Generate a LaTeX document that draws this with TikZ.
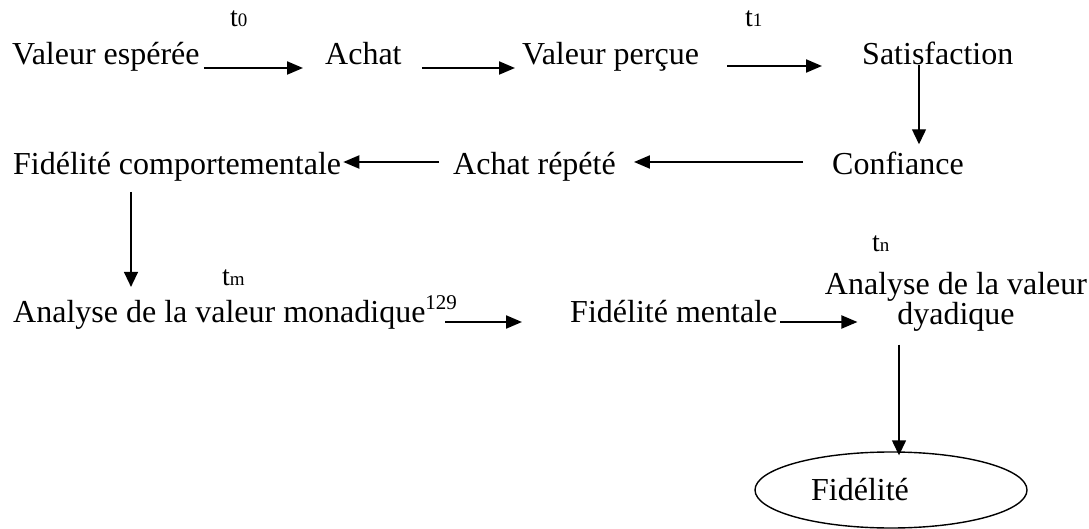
\documentclass[tikz,border=0pt]{standalone}
\usepackage{fontspec}
\setmainfont{Liberation Serif}
\usetikzlibrary{arrows.meta,calc,shapes.geometric}
\newcommand{\tsub}[2]{{\fontsize{28}{28}\selectfont #1}{\fontsize{19}{19}\selectfont #2}}
\begin{document}
\begin{tikzpicture}[x=1pt,y=-1pt,
  lbl/.style={inner sep=0pt,anchor=base west,font=\fontsize{32}{30}\selectfont},
  tlbl/.style={inner sep=0pt,anchor=base west},
  harr/.style={line width=2pt,-{Triangle[length=16pt,width=13pt]}},
  varr/.style={line width=1.4pt,-{Triangle[length=15pt,width=14pt]}}]
\useasboundingbox (0,0) rectangle (1089,529);
% row 1
\node[lbl] (ve) at (12,65) {Valeur espérée};
\node[lbl] (ach) at (325,65) {Achat};
\node[lbl] (vp) at (522,65) {Valeur perçue};
\node[lbl] (sat) at (862,65) {Satisfaction};
\node[tlbl] (t0) at (230,27) {\tsub{t}{0}};
\node[tlbl] (t1) at (745,27) {\tsub{t}{1}};
% row 2
\node[lbl] (fc) at (13,175) {Fidélité comportementale};
\node[lbl] (ar) at (453,175) {Achat répété};
\node[lbl] (conf) at (832,175) {Confiance};
% row 3
\node[lbl] (amon) at (13,322) {Analyse de la valeur monadique\raisebox{13pt}{\fontsize{21}{21}\selectfont 129}};
\node[tlbl] (tm) at (222,285) {\tsub{t}{m}};
\node[lbl] (fm) at (570,322) {Fidélité mentale};
\node[lbl,anchor=north,align=center] (adv) at (956,272) {Analyse de la valeur\\dyadique};
\node[tlbl] (tn) at (872,252) {\tsub{t}{n}};
\node[draw,line width=1.4pt,ellipse,minimum width=272pt,minimum height=76pt,inner sep=0pt,font=\fontsize{32}{30}\selectfont] (fid) at (891,490) {Fidélité\kern62pt};
% connectors
\draw[harr] ($(ve.base east)+(4,3)$) -- ($(ach.base west)+(-22,3)$);
\draw[harr] ($(ach.base east)+(20,3)$) -- ($(vp.base west)+(-7,3)$);
\draw[harr] ($(vp.base east)+(28,1)$) -- ($(sat.base west)+(-40,1)$);
\draw[varr] (sat.base west -| 919,65) -- ($(conf.north west)+(87,-8)$);
\draw[harr] ($(conf.base west)+(-29,-13)$) -- ($(ar.base east)+(18,-13)$);
\draw[harr] ($(ar.base west)+(-14,-13)$) -- ($(fc.base east)+(2,-13)$);
\draw[varr] ($(fc.base west)+(118,17)$) -- ($(amon.north west)+(118,-8)$);
\draw[harr] ($(amon.base east)+(-12,0)$) -- ($(fm.base west)+(-48,0)$);
\draw[harr] ($(fm.base east)+(3,0)$) -- ($(fm.base east)+(80,0)$);
\draw[varr] ($(adv.south)+(-57,13)$) -- ($(fid.north)+(8,4)$);
\end{tikzpicture}
\end{document}
